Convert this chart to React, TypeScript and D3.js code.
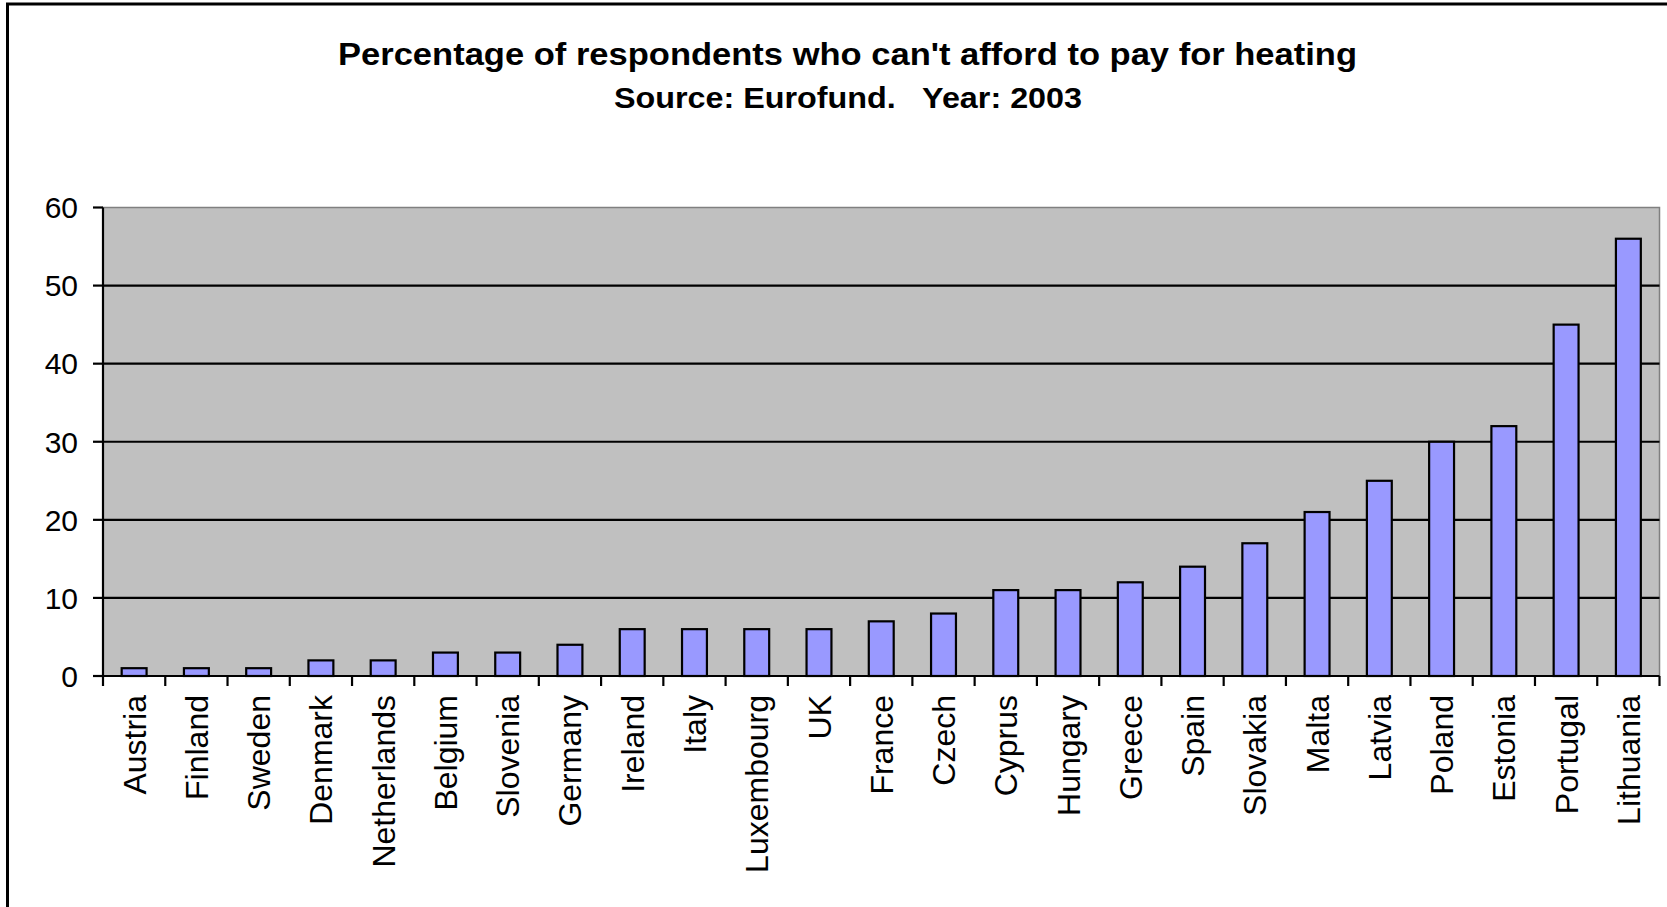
import React from "react";
import * as d3 from "d3";

const countries = ["Austria","Finland","Sweden","Denmark","Netherlands","Belgium","Slovenia","Germany","Ireland","Italy","Luxembourg","UK","France","Czech","Cyprus","Hungary","Greece","Spain","Slovakia","Malta","Latvia","Poland","Estonia","Portugal","Lithuania"];
const values = [1,1,1,2,2,3,3,4,6,6,6,6,7,8,11,11,12,14,17,21,25,30,32,45,56];
const yTicks = [0,10,20,30,40,50,60];
const title = "Percentage of respondents who can't afford to pay for heating";
const subtitle = "Source: Eurofund.   Year: 2003";

export default function App() {
  const W = 1667, H = 907;
  const left = 103, right = 1659.5, top = 207.5, bottom = 676;
  const x = d3.scaleBand<string>().domain(countries).range([left, right]).paddingInner(0).paddingOuter(0);
  const y = d3.scaleLinear().domain([0, 60]).range([bottom, top]);
  const bw = x.bandwidth() / 2.5;
  const font = "'Liberation Sans', Arial, sans-serif";
  const boundaries = d3.range(countries.length + 1).map(i => left + i * x.bandwidth());
  return (
    <svg width={W} height={H} style={{ position: "absolute", left: 0, top: 0, background: "#fff" }} fontFamily={font}>
      <rect x={7.5} y={4} width={W + 20} height={H + 20} fill="#fff" stroke="#000" strokeWidth={3} />
      <text x={847.5} y={65} textAnchor="middle" fontSize={31} fontWeight="bold" textLength={1019} lengthAdjust="spacingAndGlyphs">{title}</text>
      <text x={848} y={108} textAnchor="middle" fontSize={30} fontWeight="bold" textLength={468} lengthAdjust="spacingAndGlyphs" style={{ whiteSpace: "pre" }}>{subtitle}</text>
      <rect x={left} y={top} width={right - left} height={bottom - top} fill="#C0C0C0" stroke="#808080" strokeWidth={1.5} />
      {yTicks.filter(t => t > 0 && t < 60).map(t => (
        <line key={"g" + t} x1={left} x2={right} y1={y(t)} y2={y(t)} stroke="#000" strokeWidth={2.2} />
      ))}
      {countries.map((c, i) => (
        <rect key={c} x={x(c)! + (x.bandwidth() - bw) / 2} y={y(values[i])} width={bw} height={bottom - y(values[i])} fill="#9999FF" stroke="#000" strokeWidth={2.2} />
      ))}
      <line x1={left} x2={left} y1={top} y2={bottom} stroke="#000" strokeWidth={2.2} />
      <line x1={left} x2={right} y1={bottom} y2={bottom} stroke="#000" strokeWidth={2.2} />
      {yTicks.map(t => (
        <g key={"t" + t}>
          <line x1={left - 10} x2={left} y1={y(t)} y2={y(t)} stroke="#000" strokeWidth={2.2} />
          <text x={78} y={y(t)} dy="0.36em" textAnchor="end" fontSize={30}>{t}</text>
        </g>
      ))}
      {boundaries.map((b, i) => (
        <line key={"xt" + i} x1={b} x2={b} y1={bottom} y2={bottom + 10} stroke="#000" strokeWidth={2.2} />
      ))}
      {countries.map(c => {
        const cx = x(c)! + x.bandwidth() / 2;
        return (
          <text key={"l" + c} transform={`translate(${cx},695) rotate(-90)`} dy="0.36em" textAnchor="end" fontSize={32}>{c}</text>
        );
      })}
    </svg>
  );
}
